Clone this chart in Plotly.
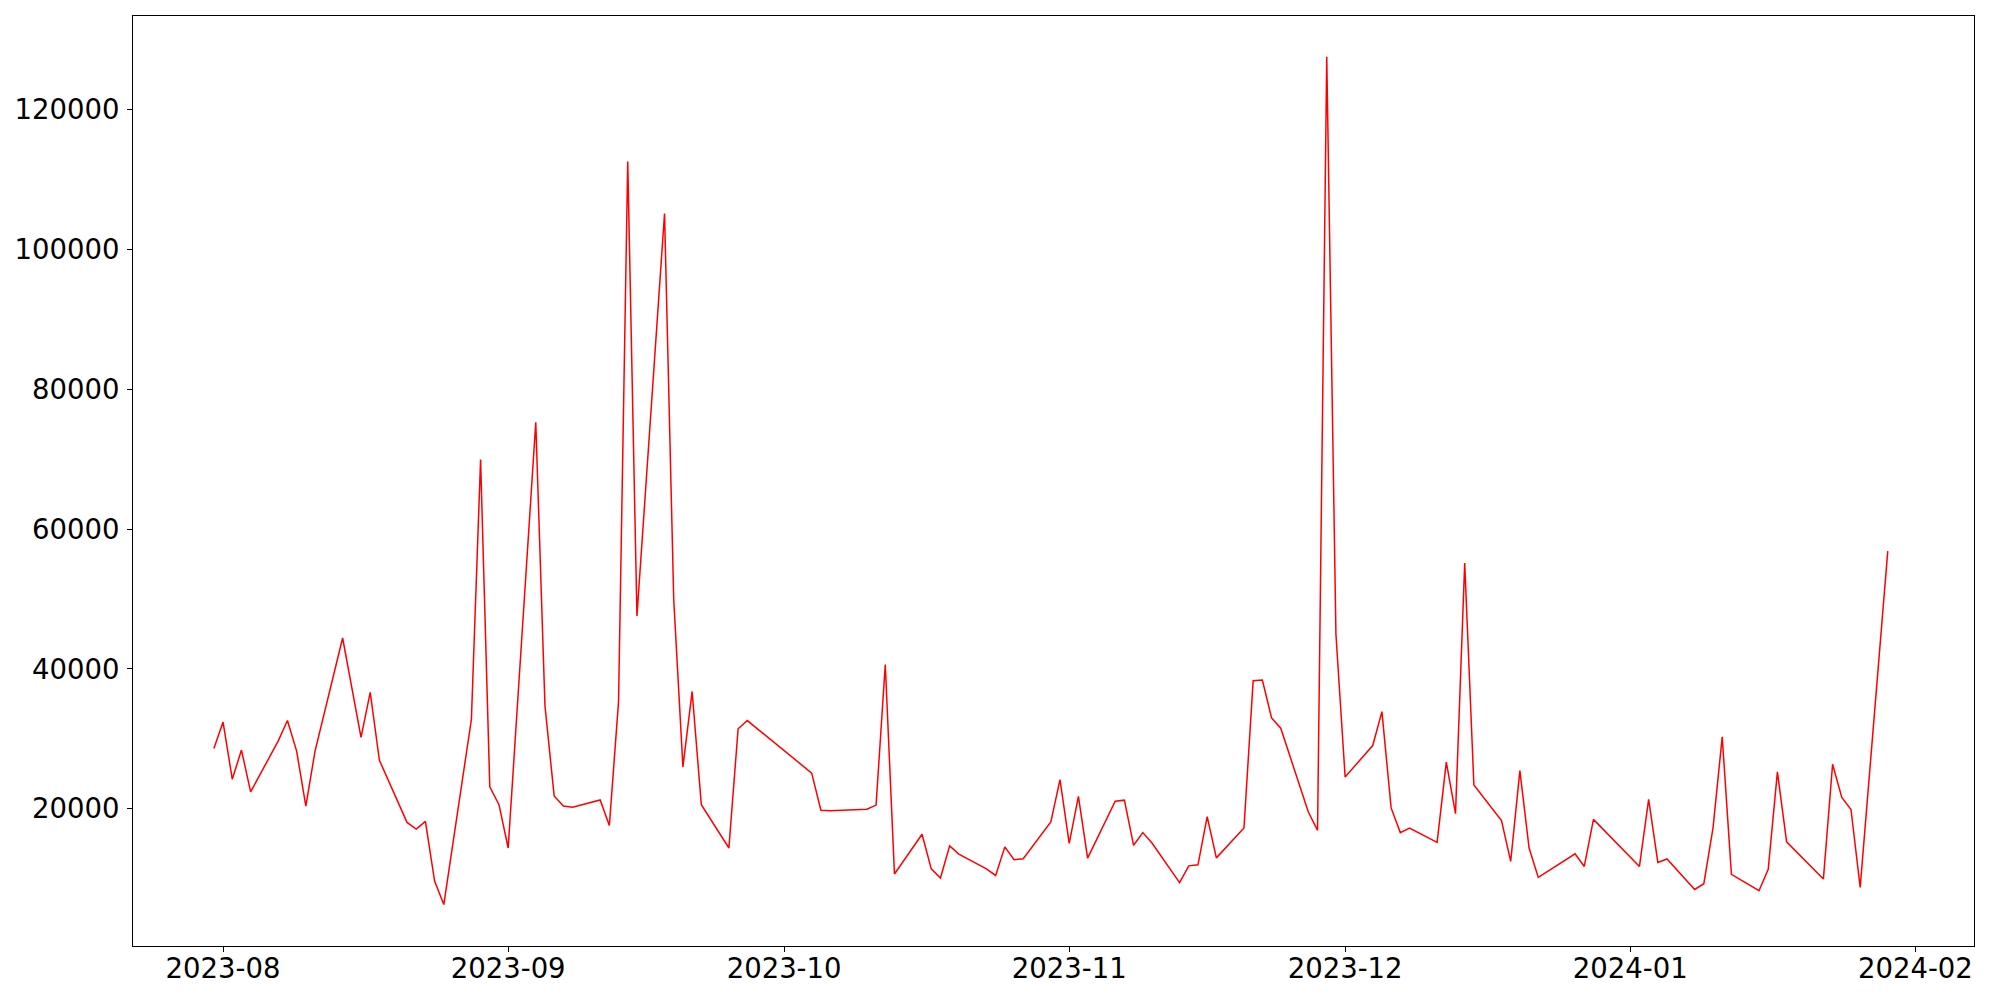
import plotly.graph_objects as go

dates = [
    "2023-07-31", "2023-08-01", "2023-08-02", "2023-08-03", "2023-08-04",
    "2023-08-07", "2023-08-08", "2023-08-09", "2023-08-10", "2023-08-11",
    "2023-08-14", "2023-08-16", "2023-08-17", "2023-08-18",
    "2023-08-21", "2023-08-22", "2023-08-23", "2023-08-24", "2023-08-25",
    "2023-08-28", "2023-08-29", "2023-08-30", "2023-08-31", "2023-09-01",
    "2023-09-04", "2023-09-05", "2023-09-06", "2023-09-07", "2023-09-08",
    "2023-09-11", "2023-09-12", "2023-09-13", "2023-09-14", "2023-09-15",
    "2023-09-18", "2023-09-19", "2023-09-20", "2023-09-21", "2023-09-22",
    "2023-09-25", "2023-09-26", "2023-09-27",
    "2023-10-04", "2023-10-05", "2023-10-06",
    "2023-10-10", "2023-10-11", "2023-10-12", "2023-10-13",
    "2023-10-16", "2023-10-17", "2023-10-18", "2023-10-19", "2023-10-20",
    "2023-10-23", "2023-10-24", "2023-10-25", "2023-10-26", "2023-10-27",
    "2023-10-30", "2023-10-31", "2023-11-01", "2023-11-02", "2023-11-03",
    "2023-11-06", "2023-11-07", "2023-11-08", "2023-11-09", "2023-11-10",
    "2023-11-13", "2023-11-14", "2023-11-15", "2023-11-16", "2023-11-17",
    "2023-11-20", "2023-11-21", "2023-11-22", "2023-11-23", "2023-11-24",
    "2023-11-27", "2023-11-28", "2023-11-29", "2023-11-30", "2023-12-01",
    "2023-12-04", "2023-12-05", "2023-12-06", "2023-12-07", "2023-12-08",
    "2023-12-11", "2023-12-12", "2023-12-13", "2023-12-14", "2023-12-15",
    "2023-12-18", "2023-12-19", "2023-12-20", "2023-12-21", "2023-12-22",
    "2023-12-26", "2023-12-27", "2023-12-28",
    "2024-01-02", "2024-01-03", "2024-01-04", "2024-01-05",
    "2024-01-08", "2024-01-09", "2024-01-10", "2024-01-11", "2024-01-12",
    "2024-01-15", "2024-01-16", "2024-01-17", "2024-01-18", "2024-01-19",
    "2024-01-22", "2024-01-23", "2024-01-24", "2024-01-25", "2024-01-26",
    "2024-01-29",
]

values = [
    28610, 32410, 24240, 28400, 22430,
    29710, 32620, 28250, 20390, 28250,
    44420, 30220, 36640, 26940,
    18060, 17100, 18200, 9680, 6320,
    32770, 69920, 23160, 20600, 14400,
    75250, 34740, 21840, 20390, 20240,
    21260, 17610, 35320, 112550, 47560,
    105110, 49890, 26000, 36780, 20600,
    14400, 31450, 32620,
    25110, 19800, 19730,
    19940, 20530, 40630, 10690,
    16370, 11420, 10100, 14700, 13530,
    11420, 10480, 14560, 12730, 12870,
    18130, 24170, 15060, 21770, 12950,
    21100, 21240, 14790, 16600, 15120,
    9460, 11850, 12000, 18890, 12990,
    17260, 38320, 38410, 33000, 31520,
    19540, 16930, 127510, 44960, 24560,
    29050, 33890, 20130, 16600, 17260,
    15200, 26680, 19300, 55130, 23400,
    18310, 12500, 25460, 14390, 10200,
    13560, 11760, 18490,
    11760, 21360, 12330, 12830,
    8480, 9300, 17290, 30280, 10630,
    8290, 11350, 25280, 15290, 13960,
    9960, 26380, 21630, 19910, 8780,
    56840,
]

y_ticks = [20000, 40000, 60000, 80000, 100000, 120000]

fig = go.Figure()
fig.add_trace(go.Scatter(
    x=dates, y=values, mode="lines",
    line=dict(color="#ff0000", width=1.5),
    showlegend=False,
))

font = dict(family="DejaVu Sans", size=27.5, color="black")

fig.update_layout(
    width=1984, height=984,
    margin=dict(l=120, r=18, t=7, b=46, pad=0),
    paper_bgcolor="white", plot_bgcolor="white",
    font=font,
    showlegend=False,
)
fig.update_xaxes(
    type="date",
    range=["2023-07-22 05:00", "2024-02-07 09:00"],
    tick0="2023-08-01", dtick="M1", tickformat="%Y-%m",
    ticks="outside", ticklen=5, tickwidth=1, tickcolor="black",
    ticklabelstandoff=-7,
    showline=True, linecolor="black", linewidth=1, mirror=True,
    showgrid=False, zeroline=False,
    tickfont=font,
)
fig.update_yaxes(
    range=[391, 133340],
    tickvals=y_ticks, ticktext=[str(v) for v in y_ticks],
    ticks="outside", ticklen=5, tickwidth=1, tickcolor="black",
    ticklabelstandoff=2,
    showline=True, linecolor="black", linewidth=1, mirror=True,
    showgrid=False, zeroline=False,
    tickfont=font,
)

fig.write_html("out.html")
